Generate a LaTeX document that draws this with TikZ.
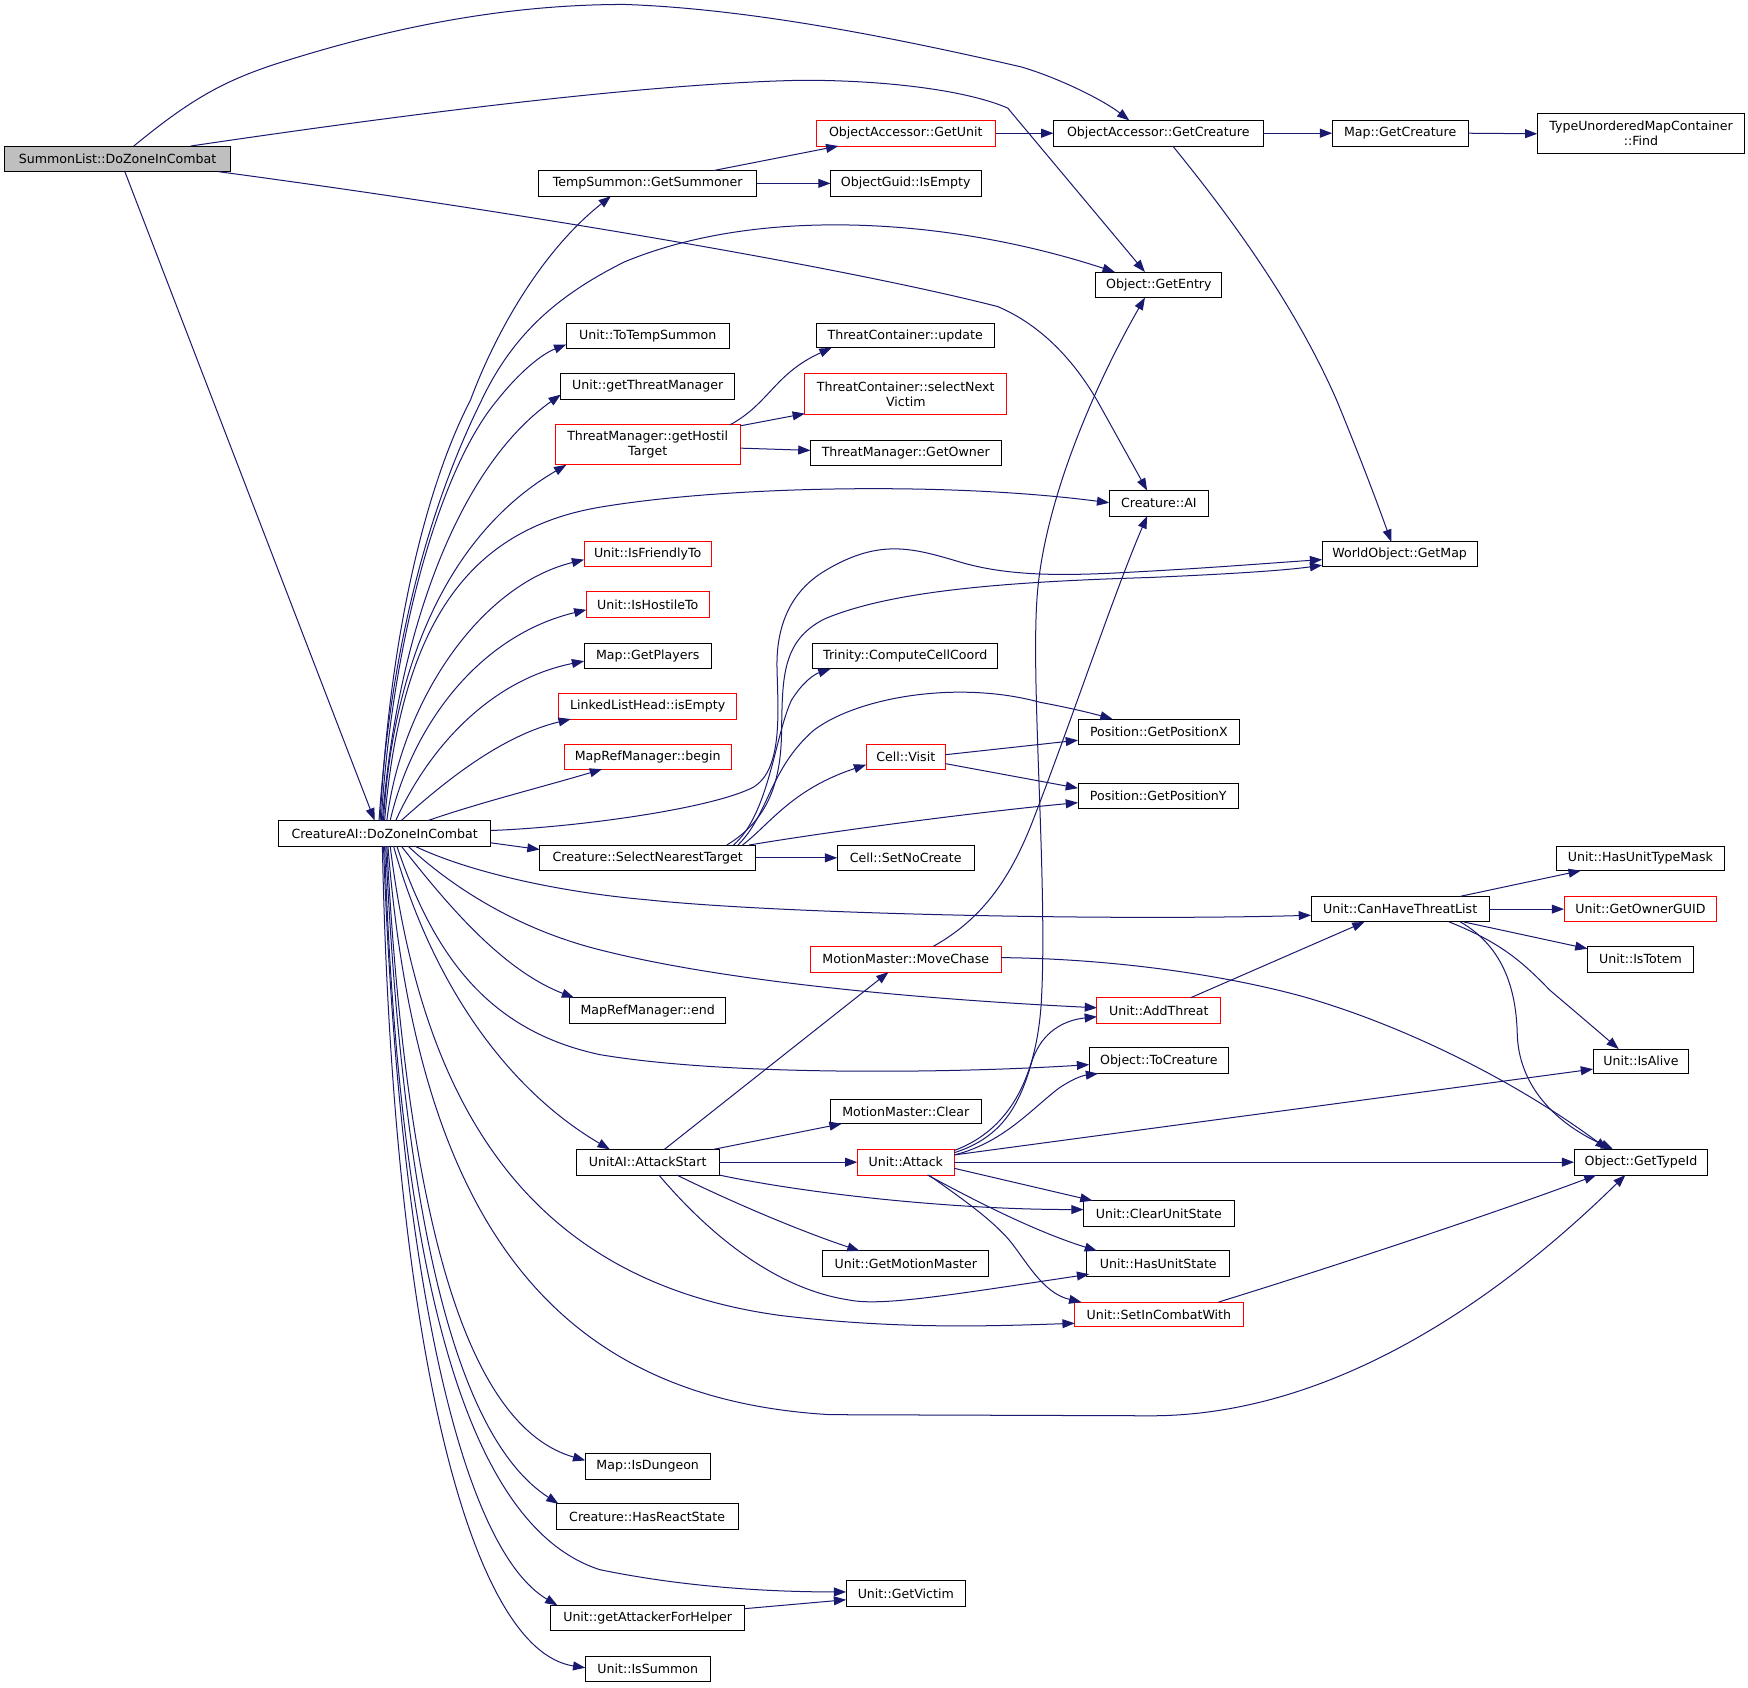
\documentclass[tikz,border=0pt]{standalone}
\usepackage{fontspec}
\setmainfont{DejaVu Sans}
\usetikzlibrary{arrows.meta}
\definecolor{edgec}{HTML}{191970}
\definecolor{rootfill}{HTML}{BFBFBF}
\newcommand\mkbox[7][]{\node[box,#1,minimum width={(#5-#3)*1pt},minimum height={(#6-#4)*1pt}] (#2) at ({(#3+#5)/2},{(#4+#6)/2}) {#7};}
\begin{document}
\begin{tikzpicture}[x=1pt,y=-1pt,
 box/.style={draw=black,line width=0.9pt,fill=white,inner sep=0pt,outer sep=0pt,align=center,font={\fontsize{11.3}{13.5}\selectfont}},
 redbox/.style={draw=red},
 link/.style={draw=edgec,line width=0.9pt,-{Triangle[length=11pt,width=8pt]}}]
\useasboundingbox[fill=white] (0,0) rectangle (1568,1514);

\mkbox[fill=rootfill]{root}{4}{131}{207}{154}{SummonList::DoZoneInCombat}
\mkbox{cai}{250}{736}{440}{759}{CreatureAI::DoZoneInCombat}
\mkbox{gsum}{483}{153}{679}{176}{TempSummon::GetSummoner}
\mkbox{tts}{508}{290}{654}{313}{Unit::ToTempSummon}
\mkbox{gtm}{503}{335}{659}{358}{Unit::getThreatManager}
\mkbox[redbox]{ght}{498}{381}{664}{417}{ThreatManager::getHostil\\Target}
\mkbox[redbox]{ift}{524}{486}{638}{508}{Unit::IsFriendlyTo}
\mkbox[redbox]{iht}{526}{531}{636}{554}{Unit::IsHostileTo}
\mkbox{gpl}{524}{577}{638}{600}{Map::GetPlayers}
\mkbox[redbox]{lle}{501}{622}{661}{645}{LinkedListHead::isEmpty}
\mkbox[redbox]{mrb}{506}{668}{656}{690}{MapRefManager::begin}
\mkbox{snt}{484}{758}{678}{781}{Creature::SelectNearestTarget}
\mkbox{mre}{511}{895}{651}{918}{MapRefManager::end}
\mkbox{uas}{517}{1031}{645}{1054}{UnitAI::AttackStart}
\mkbox{isd}{525}{1304}{637}{1327}{Map::IsDungeon}
\mkbox{hrs}{499}{1349}{662}{1372}{Creature::HasReactState}
\mkbox{gafh}{494}{1440}{668}{1463}{Unit::getAttackerForHelper}
\mkbox{ism}{525}{1486}{637}{1508}{Unit::IsSummon}
\mkbox[redbox]{ogu}{732}{108}{893}{131}{ObjectAccessor::GetUnit}
\mkbox{gie}{745}{153}{880}{176}{ObjectGuid::IsEmpty}
\mkbox{tcu}{732}{290}{892}{312}{ThreatContainer::update}
\mkbox[redbox]{tcs}{722}{335}{903}{372}{ThreatContainer::selectNext\\Victim}
\mkbox{tmo}{727}{395}{898}{418}{ThreatManager::GetOwner}
\mkbox{ccc}{729}{577}{895}{600}{Trinity::ComputeCellCoord}
\mkbox[redbox]{cvi}{777}{668}{848}{690}{Cell::Visit}
\mkbox{cnc}{751}{758}{874}{781}{Cell::SetNoCreate}
\mkbox[redbox]{mmc}{727}{849}{898}{872}{MotionMaster::MoveChase}
\mkbox{mmcl}{745}{986}{880}{1008}{MotionMaster::Clear}
\mkbox[redbox]{uat}{769}{1031}{856}{1054}{Unit::Attack}
\mkbox{ugm}{738}{1122}{887}{1145}{Unit::GetMotionMaster}
\mkbox{ugv}{759}{1418}{866}{1441}{Unit::GetVictim}
\mkbox{goc}{945}{108}{1133}{131}{ObjectAccessor::GetCreature}
\mkbox{gen}{983}{244}{1096}{267}{Object::GetEntry}
\mkbox{crai}{995}{440}{1084}{463}{Creature::AI}
\mkbox{gpx}{967}{645}{1112}{668}{Position::GetPositionX}
\mkbox{gpy}{967}{703}{1111}{725}{Position::GetPositionY}
\mkbox[redbox]{adt}{984}{895}{1095}{918}{Unit::AddThreat}
\mkbox{tcr}{977}{940}{1102}{963}{Object::ToCreature}
\mkbox{cus}{972}{1077}{1107}{1100}{Unit::ClearUnitState}
\mkbox{hus}{975}{1122}{1103}{1145}{Unit::HasUnitState}
\mkbox[redbox]{sic}{964}{1168}{1115}{1190}{Unit::SetInCombatWith}
\mkbox{mgc}{1195}{108}{1317}{131}{Map::GetCreature}
\mkbox{gmap}{1186}{486}{1325}{508}{WorldObject::GetMap}
\mkbox{chtl}{1176}{804}{1336}{827}{Unit::CanHaveThreatList}
\mkbox{tumf}{1379}{102}{1565}{138}{TypeUnorderedMapContainer\\::Find}
\mkbox{hutm}{1396}{759}{1547}{781}{Unit::HasUnitTypeMask}
\mkbox[redbox]{gog}{1403}{804}{1540}{827}{Unit::GetOwnerGUID}
\mkbox{ito}{1424}{849}{1519}{872}{Unit::IsTotem}
\mkbox{ial}{1429}{941}{1515}{963}{Unit::IsAlive}
\mkbox{gti}{1412}{1031}{1532}{1054}{Object::GetTypeId}

% root edges
\draw[link] ([shift={(116,0)}]root.north west) .. controls (170,90) and (200,72) .. (255,55) .. controls (360,22) and (460,4) .. (560,4) .. controls (680,8) and (820,38) .. (916,60) .. controls (950,70) and (990,90) .. ([shift={(68,0)}]goc.north west);
\draw[link] ([shift={(167,0)}]root.north west) .. controls (300,112) and (560,75) .. (720,72) .. controls (800,72) and (870,82) .. (904,97) -- ([shift={(44,0)}]gen.north west);
\draw[link] ([shift={(192,0)}]root.south west) .. controls (450,188) and (750,238) .. (895,275) .. controls (930,290) and (960,318) .. (984,359) -- ([shift={(34,0)}]crai.north west);
\draw[link] ([shift={(108,0)}]root.south west) -- ([shift={(86,0)}]cai.north west);

% CreatureAI upward
\draw[link] ([shift={(91,0)}]cai.north west) .. controls (350,560) and (385,430) .. (422,359) .. controls (440,310) and (480,230) .. ([shift={(65,0)}]gsum.south west);
\draw[link] ([shift={(90,0)}]cai.north west) .. controls (352,560) and (392,440) .. (432,359) .. controls (460,300) and (500,265) .. (560,235) .. controls (680,185) and (850,195) .. ([shift={(17,0)}]gen.north west);
\draw[link] ([shift={(92,0)}]cai.north west) .. controls (352,570) and (395,420) .. (446,359) .. controls (465,335) and (485,318) .. ([shift={(0,19)}]tts.north west);
\draw[link] ([shift={(93,0)}]cai.north west) .. controls (356,570) and (410,420) .. ([shift={(0,19)}]gtm.north west);
\draw[link] ([shift={(94,0)}]cai.north west) .. controls (352,600) and (400,480) .. ([shift={(10,0)}]ght.south west);
\draw[link] ([shift={(95,0)}]cai.north west) .. controls (360,560) and (420,475) .. (538,455) .. controls (650,436) and (850,432) .. ([shift={(0,11)}]crai.north west);
\draw[link] ([shift={(97,0)}]cai.north west) .. controls (360,630) and (430,525) .. ([shift={(0,16)}]ift.north west);
\draw[link] ([shift={(100,0)}]cai.north west) .. controls (370,650) and (430,570) .. ([shift={(0,16)}]iht.north west);
\draw[link] ([shift={(105,0)}]cai.north west) .. controls (385,670) and (440,610) .. ([shift={(0,16)}]gpl.north west);
\draw[link] ([shift={(110,0)}]cai.north west) .. controls (400,700) and (450,660) .. ([shift={(11,0)}]lle.south west);
\draw[link] ([shift={(134,0)}]cai.north west) .. controls (430,720) and (490,705) .. ([shift={(34,0)}]mrb.south west);
\draw[link] ([shift={(0,9)}]cai.north east) .. controls (520,742) and (640,725) .. (676,706) .. controls (702,690) and (698,640) .. (697,600) .. controls (696,560) and (710,530) .. (740,512) .. controls (790,482) and (820,492) .. (864,505) .. controls (900,515) and (940,517) .. (1000,514) .. controls (1080,510) and (1140,505) .. ([shift={(0,16)}]gmap.north west);
\draw[link] ([shift={(0,20)}]cai.north east) -- ([shift={(0,4)}]snt.north west);

% CreatureAI downward
\draw[link] ([shift={(122,0)}]cai.south west) .. controls (420,782) and (500,800) .. (579,807) .. controls (700,820) and (1000,826) .. ([shift={(0,17)}]chtl.north west);
\draw[link] ([shift={(116,0)}]cai.south west) .. controls (410,800) and (470,835) .. (538,852) .. controls (640,878) and (800,895) .. ([shift={(0,9)}]adt.north west);
\draw[link] ([shift={(110,0)}]cai.south west) .. controls (400,810) and (450,870) .. ([shift={(4,0)}]mre.north west);
\draw[link] ([shift={(106,0)}]cai.south west) .. controls (390,860) and (440,925) .. (538,946) .. controls (650,965) and (850,963) .. ([shift={(0,15)}]tcr.north west);
\draw[link] ([shift={(103,0)}]cai.south west) .. controls (390,890) and (460,980) .. ([shift={(30,0)}]uas.north west);
\draw[link] ([shift={(100,0)}]cai.south west) .. controls (380,1000) and (480,1150) .. (700,1180) .. controls (800,1192) and (880,1190) .. ([shift={(0,19)}]sic.north west);
\draw[link] ([shift={(98,0)}]cai.south west) .. controls (375,1100) and (500,1255) .. (745,1269) -- (1032,1270) .. controls (1200,1270) and (1350,1160) .. ([shift={(46,0)}]gti.south west);
\draw[link] ([shift={(97,0)}]cai.south west) .. controls (365,1100) and (420,1280) .. ([shift={(0,6)}]isd.north west);
\draw[link] ([shift={(96,0)}]cai.south west) .. controls (362,1100) and (410,1290) .. ([shift={(2,0)}]hrs.north west);
\draw[link] ([shift={(95,0)}]cai.south west) .. controls (358,1150) and (420,1370) .. (538,1408) .. controls (620,1425) and (700,1428) .. ([shift={(0,10)}]ugv.north west);
\draw[link] ([shift={(94,0)}]cai.south west) .. controls (358,1150) and (415,1390) .. ([shift={(6,0)}]gafh.north west);
\draw[link] ([shift={(93,0)}]cai.south west) .. controls (352,1200) and (420,1480) .. ([shift={(0,10)}]ism.north west);

% other edges
\draw[link] ([shift={(157,0)}]gsum.north west) -- ([shift={(20,0)}]ogu.south west);
\draw[link] ([shift={(0,11.5)}]gsum.north east) -- ([shift={(0,11.5)}]gie.north west);
\draw[link] (ogu.east) -- (goc.west);
\draw[link] (goc.east) -- (mgc.west);
\draw[link] (mgc.east) -- (tumf.west);
\draw[link] ([shift={(107,0)}]goc.south west) .. controls (1100,190) and (1160,270) .. (1199,359) .. controls (1220,410) and (1235,450) .. ([shift={(62,0)}]gmap.north west);
\draw[link] ([shift={(157,0)}]ght.north west) .. controls (690,362) and (695,335) .. ([shift={(14,0)}]tcu.south west);
\draw[link] ([shift={(0,1)}]ght.north east) -- ([shift={(0,-1)}]tcs.south west);
\draw[link] ([shift={(0,21)}]ght.north east) -- ([shift={(0,9)}]tmo.north west);
\draw[link] ([shift={(168,0)}]snt.north west) .. controls (690,735) and (700,700) .. (701,660) .. controls (702,610) and (700,575) .. (740,555) .. controls (800,530) and (900,522) .. (1032,518) .. controls (1100,515) and (1150,512) .. ([shift={(0,21)}]gmap.north west);
\draw[link] ([shift={(174,0)}]snt.north west) .. controls (690,730) and (695,660) .. (710,628) .. controls (720,612) and (730,605) .. ([shift={(16,0)}]ccc.south west);
\draw[link] ([shift={(178,0)}]snt.north west) .. controls (690,730) and (690,690) .. (730,655) .. controls (770,625) and (860,610) .. (933,630) .. controls (960,635) and (980,640) .. ([shift={(31,0)}]gpx.north west);
\draw[link] ([shift={(182,0)}]snt.north west) .. controls (690,740) and (710,708) .. ([shift={(0,18)}]cvi.north west);
\draw[link] ([shift={(188,0)}]snt.north west) .. controls (750,745) and (880,728) .. ([shift={(0,17)}]gpy.north west);
\draw[link] (snt.east) -- (cnc.west);
\draw[link] ([shift={(0,9)}]cvi.north east) -- ([shift={(0,19)}]gpx.north west);
\draw[link] ([shift={(0,17)}]cvi.north east) -- ([shift={(0,4)}]gpy.north west);
\draw[link] ([shift={(110,0)}]mmc.north west) .. controls (880,825) and (905,790) .. (925,740) .. controls (960,650) and (1000,530) .. ([shift={(34,0)}]crai.south west);
\draw[link] ([shift={(0,10)}]mmc.north east) .. controls (1000,860) and (1100,875) .. (1169,894) .. controls (1260,920) and (1360,970) .. ([shift={(30,0)}]gti.north west);
\draw[link] ([shift={(84,0)}]adt.north west) -- ([shift={(48,0)}]chtl.south west);
\draw[link] ([shift={(134,0)}]chtl.north west) -- ([shift={(22,0)}]hutm.south west);
\draw[link] (chtl.east) -- (gog.west);
\draw[link] ([shift={(137,0)}]chtl.south west) -- ([shift={(0,2)}]ito.north west);
\draw[link] ([shift={(124,0)}]chtl.south west) .. controls (1345,845) and (1365,862) .. (1390,888) .. controls (1410,905) and (1430,922) .. ([shift={(23,0)}]ial.north west);
\draw[link] ([shift={(134,0)}]chtl.south west) .. controls (1350,850) and (1360,890) .. (1361,927) .. controls (1362,970) and (1390,1005) .. ([shift={(35,0)}]gti.north west);
\draw[link] ([shift={(79,0)}]uas.north west) -- ([shift={(70,0)}]mmc.south west);
\draw[link] ([shift={(123,0)}]uas.north west) -- ([shift={(10,0)}]mmcl.south west);
\draw[link] (uas.east) -- (uat.west);
\draw[link] (uas.south east) .. controls (720,1070) and (850,1085) .. ([shift={(0,8)}]cus.north west);
\draw[link] ([shift={(90,0)}]uas.south west) .. controls (660,1080) and (720,1105) .. ([shift={(33,0)}]ugm.north west);
\draw[link] ([shift={(74,0)}]uas.south west) .. controls (630,1100) and (690,1155) .. (761,1166) .. controls (790,1172) and (850,1162) .. ([shift={(2,-2)}]hus.south west);
\draw[link] ([shift={(0,3)}]uat.north east) .. controls (900,1020) and (915,990) .. (926,951) .. controls (935,925) and (955,915) .. ([shift={(0,17)}]adt.north west);
\draw[link] ([shift={(0,5)}]uat.north east) .. controls (900,1025) and (925,995) .. (950,976) .. controls (962,968) and (970,965) .. ([shift={(8,0)}]tcr.south west);
\draw[link] ([shift={(0,1)}]uat.north east) .. controls (910,1012) and (930,960) .. (934,900) .. controls (940,800) and (925,620) .. (930,540) .. controls (935,450) and (985,340) .. ([shift={(44,0)}]gen.south west);
\draw[link] ([shift={(0,5)}]uat.north east) -- ([shift={(0,18)}]ial.north west);
\draw[link] (uat.east) -- (gti.west);
\draw[link] ([shift={(0,17)}]uat.north east) -- ([shift={(8,0)}]cus.north west);
\draw[link] ([shift={(63,0)}]uat.south west) .. controls (880,1080) and (930,1105) .. ([shift={(9,0)}]hus.north west);
\draw[link] ([shift={(64,0)}]uat.south west) .. controls (870,1080) and (890,1095) .. (905,1112) .. controls (920,1130) and (935,1160) .. ([shift={(6,0)}]sic.north west);
\draw[link] ([shift={(129,0)}]sic.north west) .. controls (1200,1135) and (1350,1085) .. ([shift={(20,0)}]gti.south west);
\draw[link] ([shift={(0,3)}]gafh.north east) -- ([shift={(0,17)}]ugv.north west);
\end{tikzpicture}
\end{document}
